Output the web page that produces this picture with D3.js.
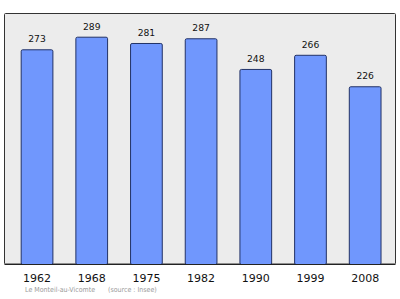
<!DOCTYPE html>
<html><head><meta charset="utf-8">
<script src="https://cdn.jsdelivr.net/npm/d3@7"></script>
<style>body{margin:0;background:#fff}svg{display:block}</style>
</head><body>
<script>
const years = ["1962","1968","1975","1982","1990","1999","2008"];
const population = [273,289,281,287,248,266,226];
const footerName = "Le Monteil-au-Vicomte";
const footerSource = "(source : Insee)";

const W = 400, H = 299;
const svg = d3.select("body").append("svg").attr("width", W).attr("height", H);
const plot = {left: 4.5, top: 13.5, right: 395.5, bottom: 264};

svg.append("rect").attr("x", plot.left).attr("y", plot.top)
  .attr("width", plot.right - plot.left).attr("height", plot.bottom - plot.top)
  .attr("fill", "#ececec").attr("stroke", "#333").attr("stroke-width", 1).attr("rx", 1);

const x = d3.scaleBand().domain(years).range([9.2, 392]).paddingInner(0.42).paddingOuter(0.21);
const y = d3.scaleLinear().domain([0, 318.5]).range([plot.bottom, plot.top]);

svg.selectAll("rect.bar").data(years).join("rect").attr("class", "bar")
  .attr("x", d => x(d) + 0.5)
  .attr("y", (d, i) => y(population[i]) + 0.5)
  .attr("width", x.bandwidth())
  .attr("height", (d, i) => plot.bottom - y(population[i]))
  .attr("rx", 1.5)
  .attr("fill", "#7097fd").attr("stroke", "#223266").attr("stroke-width", 1);

svg.append("line").attr("x1", plot.left).attr("x2", plot.right)
  .attr("y1", plot.bottom + 0.5).attr("y2", plot.bottom + 0.5)
  .attr("stroke", "#222").attr("stroke-width", 1);

svg.selectAll("text.val").data(years).join("text").attr("class", "val")
  .attr("x", d => x(d) + x.bandwidth() / 2 + 0.5)
  .attr("y", (d, i) => y(population[i]) - 7)
  .attr("text-anchor", "middle")
  .attr("font-family", "DejaVu Sans").attr("font-size", 9.2).attr("fill", "#111")
  .text((d, i) => population[i]);

const xAxis = d3.axisBottom(x).tickSize(0).tickPadding(0);
const gx = svg.append("g").attr("transform", `translate(0.5,${plot.bottom})`).call(xAxis);
gx.select(".domain").remove();
gx.selectAll("text").attr("font-family", "DejaVu Sans").attr("font-size", 11)
  .attr("fill", "#111").attr("dy", null).attr("y", 17.5);

svg.append("text").attr("x", 25).attr("y", 292)
  .attr("font-family", "DejaVu Sans Condensed, DejaVu Sans").attr("font-size", 7)
  .attr("fill", "#9a9a9a").text(footerName);
svg.append("text").attr("x", 108).attr("y", 292)
  .attr("font-family", "DejaVu Sans Condensed, DejaVu Sans").attr("font-size", 7)
  .attr("fill", "#9a9a9a").text(footerSource);
</script>
</body></html>
